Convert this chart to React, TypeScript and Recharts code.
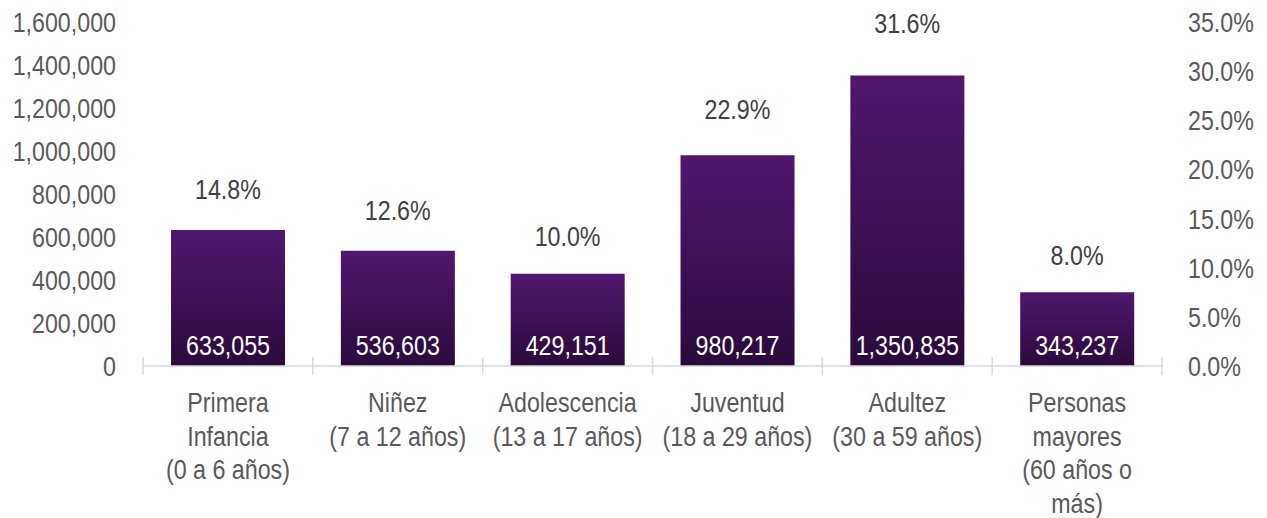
import React from 'react';
import { ComposedChart, Bar, Line, XAxis, YAxis, LabelList } from 'recharts';

const categories = [
  'Primera\nInfancia\n(0 a 6 años)',
  'Niñez\n(7 a 12 años)',
  'Adolescencia\n(13 a 17 años)',
  'Juventud\n(18 a 29 años)',
  'Adultez\n(30 a 59 años)',
  'Personas\nmayores\n(60 años o\nmás)',
];
const population = [633055, 536603, 429151, 980217, 1350835, 343237];
const share = [14.8, 12.6, 10.0, 22.9, 31.6, 8.0];
const leftTicks = [0, 200000, 400000, 600000, 800000, 1000000, 1200000, 1400000, 1600000];
const rightTicks = [0, 5, 10, 15, 20, 25, 30, 35];

const data = categories.map((name, i) => ({ name, population: population[i], share: share[i] }));

// the original uses a narrow face; squeeze Liberation Sans to match
const FONT = "'Liberation Sans', Arial, sans-serif";
const SQUEEZE = 0.83;
const AXIS_TEXT = '#595959';
const fmtInt = (v: number) => v.toLocaleString('en-US');

const NarrowText = ({ x, y, anchor = 'middle', fill, children }: any) => (
  <text
    transform={`translate(${x},${y}) scale(${SQUEEZE},1)`}
    x={0}
    y={0}
    textAnchor={anchor}
    fill={fill}
    fontFamily={FONT}
    fontSize={28}
  >
    {children}
  </text>
);

const CategoryTick = (props: any) => {
  const { x, y, payload, index } = props;
  const half = payload?.offset || 85;
  const lines = String(payload.value).split('\n');
  return (
    <g>
      <line x1={x - half} x2={x - half} y1={y - 9} y2={y + 9} stroke="#d9d9d9" strokeWidth={1.5} />
      {index === categories.length - 1 && (
        <line x1={x + half} x2={x + half} y1={y - 9} y2={y + 9} stroke="#d9d9d9" strokeWidth={1.5} />
      )}
      {lines.map((l, i) => (
        <NarrowText key={i} x={x} y={y + 46 + i * 33.5} fill={AXIS_TEXT}>{l}</NarrowText>
      ))}
    </g>
  );
};

const LeftTick = (props: any) => {
  const { x, y, payload } = props;
  return <NarrowText x={x} y={y + 10} anchor="end" fill={AXIS_TEXT}>{fmtInt(payload.value)}</NarrowText>;
};

const RightTick = (props: any) => {
  const { x, y, payload } = props;
  return (
    <NarrowText x={x} y={y + 10} anchor="start" fill={AXIS_TEXT}>
      {Number(payload.value).toFixed(1) + '%'}
    </NarrowText>
  );
};

const BarValue = (props: any) => {
  const { x, y, width, height, value } = props;
  return <NarrowText x={x + width / 2} y={y + height - 11} fill="#ffffff">{fmtInt(value)}</NarrowText>;
};

const ShareLabel = (props: any) => {
  const { x, y, value } = props;
  return <NarrowText x={x} y={y - 22} fill="#404040">{Number(value).toFixed(1)}%</NarrowText>;
};

export default function App() {
  return (
    <div style={{ position: 'absolute', left: 0, top: 0, background: '#fff' }}>
      <ComposedChart
        width={1267}
        height={518}
        data={data}
        margin={{ top: 22, right: 0, bottom: 0, left: 0 }}
        barCategoryGap="16.5%"
      >
        <defs>
          <linearGradient id="barFill" x1="0" y1="0" x2="0" y2="1">
            <stop offset="0%" stopColor="#51176f" />
            <stop offset="100%" stopColor="#2a0a3c" />
          </linearGradient>
        </defs>
        <XAxis
          dataKey="name"
          height={152}
          interval={0}
          tickLine={false}
          tickSize={0}
          tickMargin={0}
          axisLine={{ stroke: '#d9d9d9', strokeWidth: 1.5 }}
          tick={<CategoryTick />}
        />
        <YAxis
          yAxisId="left"
          width={143}
          domain={[0, 1600000]}
          ticks={leftTicks}
          axisLine={false}
          tickLine={false}
          tickSize={0}
          tickMargin={27}
          tick={<LeftTick />}
        />
        <YAxis
          yAxisId="right"
          orientation="right"
          width={105}
          domain={[0, 35]}
          ticks={rightTicks}
          axisLine={false}
          tickLine={false}
          tickSize={0}
          tickMargin={26}
          tick={<RightTick />}
        />
        <Bar yAxisId="left" dataKey="population" fill="url(#barFill)" isAnimationActive={false}>
          <LabelList dataKey="population" content={<BarValue />} />
        </Bar>
        <Line
          yAxisId="right"
          dataKey="share"
          stroke="none"
          dot={false}
          activeDot={false}
          isAnimationActive={false}
        >
          <LabelList dataKey="share" content={<ShareLabel />} />
        </Line>
      </ComposedChart>
    </div>
  );
}
